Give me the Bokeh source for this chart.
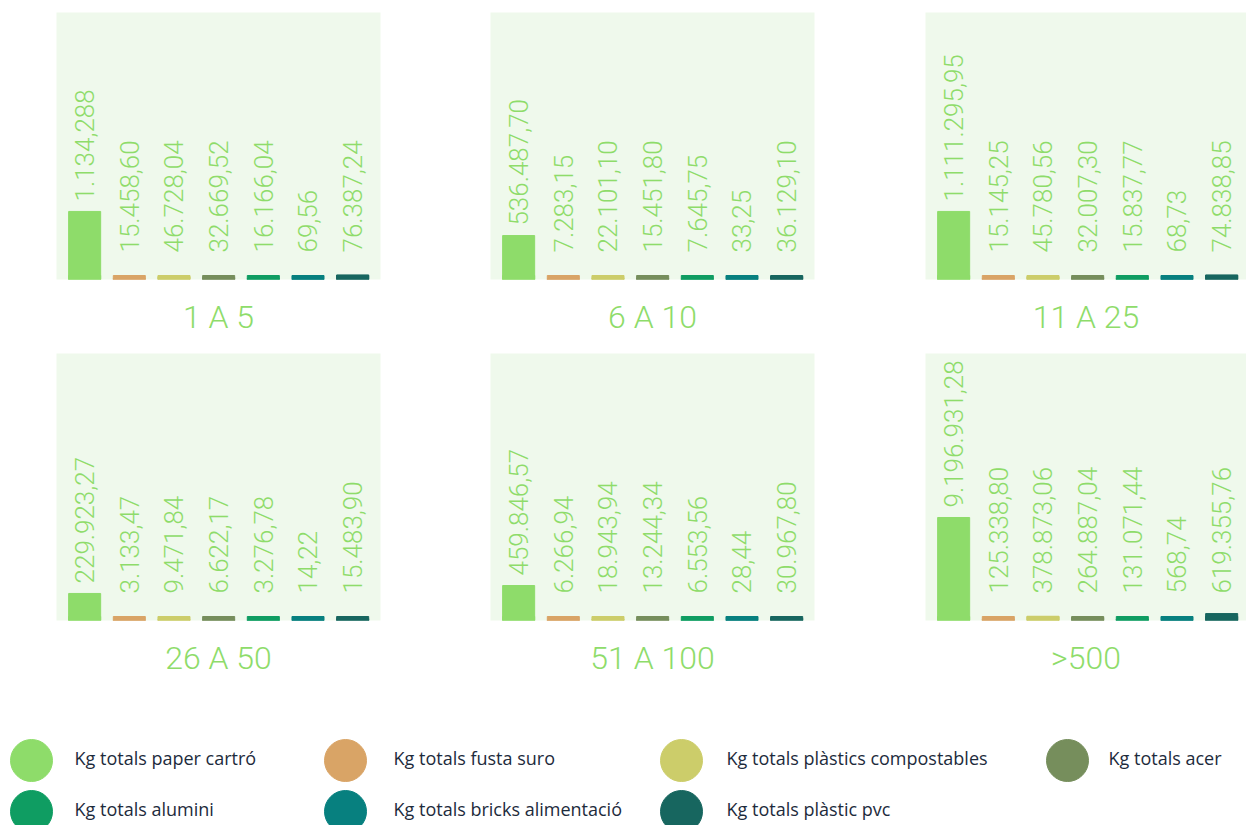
import math

from bokeh.core.properties import value
from bokeh.embed import file_html
from bokeh.layouts import column, row
from bokeh.models import ColumnDataSource, Range1d, Title
from bokeh.plotting import figure
from bokeh.resources import INLINE

# ---- data -----------------------------------------------------------------
materials = [
    "Kg totals paper cartró",
    "Kg totals fusta suro",
    "Kg totals plàstics compostables",
    "Kg totals acer",
    "Kg totals alumini",
    "Kg totals bricks alimentació",
    "Kg totals plàstic pvc",
]
colors = ["#8edc6a", "#d9a466", "#cccd6a", "#768e5c", "#0f9d62", "#07807f", "#17665f"]

groups = ["1 A 5", "6 A 10", "11 A 25", "26 A 50", "51 A 100", ">500"]

kg_1_5 = [1134288.00, 15458.60, 46728.04, 32669.52, 16166.04, 69.56, 76387.24]
kg_6_10 = [536487.70, 7283.15, 22101.10, 15451.80, 7645.75, 33.25, 36129.10]
kg_11_25 = [1111295.95, 15145.25, 45780.56, 32007.30, 15837.77, 68.73, 74838.85]
kg_26_50 = [229923.27, 3133.47, 9471.84, 6622.17, 3276.78, 14.22, 15483.90]
kg_51_100 = [459846.57, 6266.94, 18943.94, 13244.34, 6553.56, 28.44, 30967.80]
kg_500 = [9196931.28, 125338.80, 378873.06, 264887.04, 131071.44, 568.74, 619355.76]

lbl_1_5 = ["1.134,288", "15.458,60", "46.728,04", "32.669,52", "16.166,04", "69,56", "76.387,24"]
lbl_6_10 = ["536.487,70", "7.283,15", "22.101,10", "15.451,80", "7.645,75", "33,25", "36.129,10"]
lbl_11_25 = ["1.111.295,95", "15.145,25", "45.780,56", "32.007,30", "15.837,77", "68,73", "74.838,85"]
lbl_26_50 = ["229.923,27", "3.133,47", "9.471,84", "6.622,17", "3.276,78", "14,22", "15.483,90"]
lbl_51_100 = ["459.846,57", "6.266,94", "18.943,94", "13.244,34", "6.553,56", "28,44", "30.967,80"]
lbl_500 = ["9.196.931,28", "125.338,80", "378.873,06", "264.887,04", "131.071,44", "568,74", "619.355,76"]

# upper end of each panel's value axis
y_max = [4.45e6, 3.26e6, 4.36e6, 2.27e6, 3.51e6, 2.384e7]

series = [kg_1_5, kg_6_10, kg_11_25, kg_26_50, kg_51_100, kg_500]
texts = [lbl_1_5, lbl_6_10, lbl_11_25, lbl_26_50, lbl_51_100, lbl_500]

# ---- styling --------------------------------------------------------------
BG = "#eff9ec"
LABEL_GREEN = "#8edc6a"
NUM_FONT = "Roboto Light"
FRAME_H = 267
BOTTOM = 72
PX_PER_CAT = 44.67
X_START = -0.63


def panel(idx, left, frame_w, right, top):
    vals = series[idx]
    ymax = y_max[idx]
    px = ymax / FRAME_H  # data units per screen pixel
    cats = list(range(len(vals)))
    label_y = [max(v, 17 * px) + 10 * px for v in vals]
    src = ColumnDataSource(dict(x=cats, top=vals, color=colors, ly=label_y, txt=texts[idx]))

    p = figure(
        width=left + frame_w + right, height=top + FRAME_H + BOTTOM,
        x_range=Range1d(X_START, X_START + frame_w / PX_PER_CAT),
        y_range=Range1d(0, ymax),
        x_axis_location=None, y_axis_location=None,
        output_backend="svg", toolbar_location=None,
        min_border_left=left, min_border_right=right,
        min_border_top=top, min_border_bottom=BOTTOM,
        background_fill_color=BG, border_fill_color="white",
        outline_line_color=None,
    )
    p.grid.visible = False
    p.vbar(x="x", top="top", width=0.717, color="color", source=src)
    # thin base strip so every category stays visible
    p.rect(x="x", y=0, width=0.717, height=8, height_units="screen", color="color", source=src)
    p.text(x="x", y="ly", text="txt", angle=math.pi / 2, source=src,
           text_align="left", text_baseline="middle",
           text_color=LABEL_GREEN, text_font=value(NUM_FONT), text_font_size="26px")
    p.add_layout(Title(text=groups[idx], align="center", text_color=LABEL_GREEN,
                       text_font=NUM_FONT, text_font_size="32px",
                       text_font_style="normal", standoff=32), "below")
    return p


top_row = row(panel(0, 56, 324, 55, 12), panel(1, 55, 324, 56, 12), panel(2, 55, 321, 0, 12))
bottom_row = row(panel(3, 56, 324, 55, 2), panel(4, 55, 324, 56, 2), panel(5, 55, 321, 0, 2))

# ---- legend ---------------------------------------------------------------
LEG_H = 825 - (12 + FRAME_H + BOTTOM) - (2 + FRAME_H + BOTTOM)
LEG_TOP = 825 - LEG_H
leg_cols_dot = [31, 345, 681, 1067]
leg_cols_txt = [74, 393, 726, 1108]
leg_rows = [760 - LEG_TOP, 811 - LEG_TOP]
lx, ly, tx, names, cols = [], [], [], [], []
for k in range(len(materials)):
    r, c = divmod(k, 4)
    lx.append(leg_cols_dot[c])
    tx.append(leg_cols_txt[c])
    ly.append(leg_rows[r])
    names.append(materials[k])
    cols.append(colors[k])

leg = figure(width=1246, height=LEG_H, x_range=Range1d(0, 1246), y_range=Range1d(LEG_H, 0),
             x_axis_location=None, y_axis_location=None, output_backend="svg",
             toolbar_location=None, min_border=0, outline_line_color=None)
leg.grid.visible = False
lsrc = ColumnDataSource(dict(x=lx, y=ly, tx=tx, name=names, color=cols))
leg.scatter(x="x", y="y", size=42, color="color", source=lsrc)
leg.text(x="tx", y="y", text="name", source=lsrc, text_baseline="middle", text_align="left",
         y_offset=-3, text_color="#1d2b3c", text_font=value("Open Sans"),
         text_font_size="18px")

layout = column(top_row, bottom_row, leg, spacing=0)

with open("out.html", "w") as f:
    f.write(file_html(layout, INLINE))
